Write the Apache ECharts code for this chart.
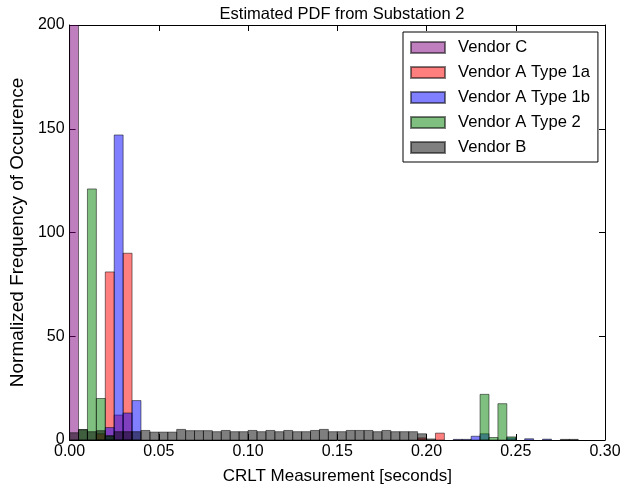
<!DOCTYPE html>
<html>
<head>
<meta charset="utf-8">
<script src="https://cdn.jsdelivr.net/npm/echarts@6/dist/echarts.min.js"></script>
<style>
html,body{margin:0;padding:0;background:#fff;}
#chart{width:626px;height:490px;}
</style>
</head>
<body>
<div id="chart"></div>
<script>
// ---- data ----
const BIN = 0.005;
const seriesNames = ["Vendor C", "Vendor A Type 1a", "Vendor A Type 1b", "Vendor A Type 2", "Vendor B"];
// [bin start, normalized frequency]
const vendorC = [[0.000, 200]];
const vendorA1a = [[0.015, 3], [0.020, 81], [0.025, 12], [0.030, 90], [0.195, 1], [0.205, 3.3]];
const vendorA1b = [[0.020, 6], [0.025, 147], [0.030, 13], [0.035, 19], [0.215, 0.3], [0.220, 0.3],
  [0.225, 1.8], [0.230, 3], [0.245, 1], [0.255, 0.6], [0.265, 0.4]];
const vendorA2 = [[0.005, 5], [0.010, 121], [0.015, 20], [0.020, 2], [0.230, 22], [0.235, 1.2],
  [0.240, 17.5], [0.245, 1.5]];
const vendorB = [[0.000, 3.5], [0.005, 5], [0.010, 4], [0.015, 4.5], [0.020, 2], [0.025, 4], [0.030, 4],
  [0.035, 4], [0.040, 4.6], [0.045, 3.8], [0.050, 3.8], [0.055, 3.8], [0.060, 5.1], [0.065, 4.5],
  [0.070, 4.5], [0.075, 4.5], [0.080, 4.0], [0.085, 4.6], [0.090, 4.0], [0.095, 4.0], [0.100, 4.6],
  [0.105, 4.0], [0.110, 4.6], [0.115, 4.0], [0.120, 4.6], [0.125, 4.0], [0.130, 4.0], [0.135, 4.6],
  [0.140, 5.1], [0.145, 4.0], [0.150, 4.0], [0.155, 4.6], [0.160, 4.6], [0.165, 4.6], [0.170, 4.0],
  [0.175, 4.6], [0.180, 4.0], [0.185, 4.0], [0.190, 4.0], [0.195, 3.0], [0.200, 0.5],
  [0.275, 0.3], [0.280, 0.3]];
const xTicks = [0, 0.30, 0.05];
const yTicks = [0, 200, 50];

// ---- styles ----
const fills = ["rgba(128,0,128,0.5)", "rgba(255,0,0,0.5)", "rgba(0,0,255,0.5)", "rgba(0,128,0,0.5)", "rgba(0,0,0,0.5)"];
const edge = "rgba(0,0,0,0.5)";
const FONT = "Liberation Sans";

const allData = [vendorC, vendorA1a, vendorA1b, vendorA2, vendorB];

function makeSeries(name, data, fill) {
  return {
    name: name,
    type: 'custom',
    xAxisIndex: 0, yAxisIndex: 0,
    clip: true,
    itemStyle: { color: fill, borderColor: edge, borderWidth: 1 },
    encode: { x: [0, 1], y: 2 },
    data: data.map(d => [d[0], d[0] + BIN, d[1]]),
    renderItem: function (params, api) {
      const p0 = api.coord([api.value(0), api.value(2)]);
      const p1 = api.coord([api.value(1), 0]);
      return {
        type: 'rect',
        shape: { x: p0[0], y: p0[1], width: p1[0] - p0[0], height: p1[1] - p0[1] },
        style: { fill: fill, stroke: edge, lineWidth: 1 }
      };
    }
  };
}

const chart = echarts.init(document.getElementById('chart'), null, { renderer: 'canvas' });
const axisCommon = {
  axisLine: { show: true, onZero: false, lineStyle: { color: '#000', width: 1 } },
  axisTick: { show: true, inside: true, length: 6, lineStyle: { color: '#000' } },
  splitLine: { show: false }
};
chart.setOption({
  animation: false,
  backgroundColor: '#fff',
  title: {
    text: 'Estimated PDF from Substation 2',
    left: 337, top: 1, textAlign: 'center',
    textStyle: { fontFamily: FONT, fontSize: 16.5, fontWeight: 'normal', color: '#000' }
  },
  grid: { left: 69, right: 21, top: 25, bottom: 49, containLabel: false },
  legend: {
    data: seriesNames,
    orient: 'vertical',
    left: 403, top: 32,
    icon: 'rect',
    itemWidth: 34, itemHeight: 11,
    itemGap: 8,
    padding: [7, 8, 6, 7],
    borderColor: '#000', borderWidth: 1,
    backgroundColor: '#fff',
    textStyle: { fontFamily: FONT, fontSize: 16.6, color: '#000', padding: [0, 0, 0, 8] }
  },
  xAxis: [
    Object.assign({
      type: 'value', position: 'bottom', min: xTicks[0], max: xTicks[1], interval: xTicks[2],
      name: 'CRLT Measurement [seconds]', nameLocation: 'middle', nameGap: 28,
      nameTextStyle: { fontFamily: FONT, fontSize: 17, color: '#000' },
      axisLabel: { fontFamily: FONT, fontSize: 16, color: '#000', margin: 4, formatter: v => v.toFixed(2) }
    }, axisCommon),
    Object.assign({
      type: 'value', position: 'top', min: xTicks[0], max: xTicks[1], interval: xTicks[2],
      axisLabel: { show: false }
    }, axisCommon)
  ],
  yAxis: [
    Object.assign({
      type: 'value', position: 'left', min: yTicks[0], max: yTicks[1], interval: yTicks[2],
      name: 'Normalized Frequency of Occurence', nameLocation: 'middle', nameGap: 39,
      nameTextStyle: { fontFamily: FONT, fontSize: 19, color: '#000' },
      axisLabel: { fontFamily: FONT, fontSize: 16, color: '#000', margin: 5 }
    }, axisCommon),
    Object.assign({
      type: 'value', position: 'right', min: yTicks[0], max: yTicks[1], interval: yTicks[2],
      axisLabel: { show: false }
    }, axisCommon)
  ],
  series: seriesNames.map((n, i) => makeSeries(n, allData[i], fills[i]))
});
</script>
</body>
</html>
